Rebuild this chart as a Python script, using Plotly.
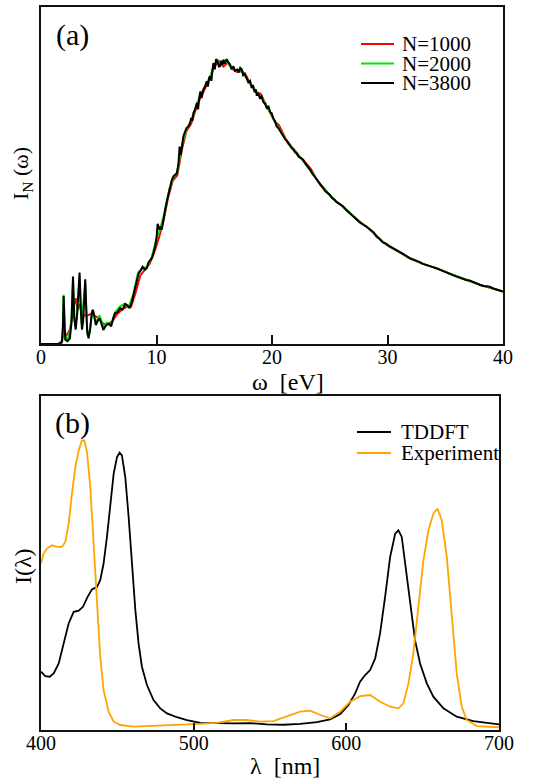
import plotly.graph_objects as go

# ---------------- Panel (a) data: omega [eV] vs I_N(omega) (arbitrary units) ----------------
w_3800 = [0.0, 1.5, 1.8, 1.9, 1.96, 2.02, 2.1, 2.3, 2.5, 2.65, 2.77, 2.88, 3.0, 3.12, 3.22, 3.34, 3.45,
          3.55, 3.65, 3.75, 3.83, 3.92, 4.0, 4.12, 4.25, 4.4, 4.5, 4.6, 4.75, 4.9, 5.07, 5.2, 5.4, 5.55,
          5.7, 5.9, 6.08, 6.25, 6.4, 6.6, 6.86, 7.05, 7.3, 7.5, 7.67, 7.85, 8.0, 8.2, 8.44, 8.6, 8.8, 9.0,
          9.16, 9.3, 9.45, 9.6, 9.75, 9.88, 10.0, 10.1, 10.25, 10.35, 10.46, 10.6, 10.75, 10.9, 11.05,
          11.18, 11.3, 11.47, 11.6, 11.76, 11.9, 12.0, 12.1, 12.2, 12.33, 12.45, 12.6, 12.75, 12.9, 13.0,
          13.1, 13.2, 13.35, 13.5, 13.6, 13.7, 13.8, 13.9, 14.06, 14.2, 14.35, 14.45, 14.55, 14.64, 14.75,
          14.85, 14.93, 15.05, 15.16, 15.3, 15.4, 15.5, 15.6, 15.7, 15.8, 15.9, 16.08, 16.2, 16.37, 16.5,
          16.66, 16.8, 17.0, 17.15, 17.25, 17.38, 17.5, 17.65, 17.8, 17.95, 18.1, 18.24, 18.35, 18.5,
          18.6, 18.67, 18.8, 18.95, 19.1, 19.25, 19.4, 19.54, 19.7, 19.85, 19.97, 20.1, 20.25, 20.4,
          20.55, 20.7, 20.85, 20.98, 21.15, 21.3, 21.45, 21.56, 21.7, 21.85, 22.0, 22.13, 22.3, 22.45,
          22.6, 22.7, 22.9, 23.1, 23.3, 23.5, 23.7, 23.86, 24.05, 24.25, 24.44, 24.6, 24.8, 25.0, 25.2,
          25.4, 25.6, 25.8, 26.0, 26.17, 26.4, 26.6, 26.74, 27.0, 27.3, 27.6, 27.9, 28.2, 28.47, 28.8,
          29.05, 29.3, 29.6, 29.9, 30.2, 30.5, 30.78, 31.05, 31.35, 31.6, 31.93, 32.2, 32.5, 32.8, 33.08,
          33.4, 33.66, 34.0, 34.24, 34.5, 34.8, 35.1, 35.4, 35.7, 35.97, 36.25, 36.54, 36.8, 37.1, 37.4,
          37.7, 38.0, 38.27, 38.55, 38.85, 39.1, 39.4, 39.7, 40.0]
I_3800 = [0.0, 0.0, 0.005, 0.06, 0.168, 0.06, 0.015, 0.01, 0.02, 0.08, 0.236, 0.09, 0.05, 0.10, 0.18,
          0.25, 0.12, 0.05, 0.08, 0.17, 0.226, 0.12, 0.04, 0.02, 0.05, 0.11, 0.119, 0.10, 0.066, 0.08,
          0.09, 0.075, 0.049, 0.06, 0.068, 0.07, 0.062, 0.09, 0.107, 0.11, 0.125, 0.12, 0.14, 0.135,
          0.125, 0.145, 0.17, 0.2, 0.245, 0.255, 0.27, 0.26, 0.265, 0.285, 0.294, 0.30, 0.32, 0.34, 0.37,
          0.42, 0.40, 0.41, 0.40, 0.44, 0.47, 0.50, 0.53, 0.55, 0.57, 0.586, 0.59, 0.597, 0.63, 0.69,
          0.66, 0.70, 0.726, 0.74, 0.755, 0.76, 0.772, 0.79, 0.78, 0.807, 0.82, 0.843, 0.82, 0.86, 0.883,
          0.86, 0.89, 0.90, 0.918, 0.90, 0.93, 0.936, 0.92, 0.96, 0.982, 0.96, 0.996, 0.985, 0.97, 0.971,
          0.99, 0.975, 0.994, 0.98, 0.996, 0.985, 0.977, 0.96, 0.971, 0.955, 0.959, 0.95, 0.965, 0.96,
          0.94, 0.945, 0.93, 0.915, 0.92, 0.895, 0.905, 0.88, 0.89, 0.872, 0.875, 0.86, 0.866, 0.845,
          0.84, 0.825, 0.83, 0.81, 0.807, 0.79, 0.78, 0.761, 0.755, 0.745, 0.735, 0.726, 0.715, 0.71,
          0.70, 0.697, 0.685, 0.68, 0.67, 0.667, 0.655, 0.652, 0.645, 0.644, 0.63, 0.62, 0.609, 0.595,
          0.585, 0.574, 0.565, 0.555, 0.545, 0.535, 0.53, 0.522, 0.51, 0.505, 0.496, 0.49, 0.487, 0.481,
          0.47, 0.462, 0.457, 0.448, 0.434, 0.425, 0.417, 0.41, 0.40, 0.39, 0.376, 0.368, 0.355, 0.35,
          0.341, 0.335, 0.329, 0.322, 0.315, 0.308, 0.30, 0.296, 0.292, 0.286, 0.28, 0.275, 0.271, 0.268,
          0.265, 0.26, 0.257, 0.25, 0.245, 0.24, 0.236, 0.23, 0.226, 0.224, 0.222, 0.216, 0.212, 0.207,
          0.203, 0.202, 0.20, 0.195, 0.191, 0.187, 0.183]

w_1000 = [0, 1.5, 1.8, 2.0, 2.2, 2.5, 2.8, 3.0, 3.2, 3.4, 3.7, 4.0, 4.3, 4.6, 5.0, 5.4, 5.8, 6.2, 6.6,
          7.0, 7.4, 7.8, 8.2, 8.6, 9.0, 9.4, 9.8, 10.2, 10.6, 11.0, 11.4, 11.8, 12.2, 12.6, 13.0, 13.4,
          13.8, 14.2, 14.6, 15.0, 15.4, 15.8, 16.2, 16.6, 17.0, 17.4, 17.8, 18.2, 18.6, 19.0, 19.4, 19.8,
          20.2, 20.6, 21.0, 21.4, 21.8, 22.2, 22.6, 23.0, 23.4, 23.8, 24.2, 24.6, 25.0, 25.5, 26.0, 26.5,
          27.0, 27.5, 28.0, 28.5, 29.0, 29.5, 30.0, 31, 32, 33, 34, 35, 36, 37, 38, 39, 40]
I_1000 = [0, 0, 0.01, 0.04, 0.03, 0.05, 0.12, 0.16, 0.12, 0.14, 0.10, 0.10, 0.105, 0.10, 0.09, 0.07,
          0.07, 0.08, 0.105, 0.12, 0.13, 0.13, 0.18, 0.24, 0.26, 0.28, 0.32, 0.37, 0.43, 0.51, 0.57, 0.59,
          0.68, 0.745, 0.77, 0.82, 0.86, 0.895, 0.925, 0.97, 0.99, 0.97, 0.985, 0.96, 0.95, 0.955, 0.935,
          0.905, 0.88, 0.875, 0.845, 0.815, 0.78, 0.765, 0.73, 0.70, 0.685, 0.665, 0.645, 0.63, 0.61,
          0.58, 0.555, 0.54, 0.52, 0.50, 0.485, 0.465, 0.448, 0.43, 0.415, 0.40, 0.38, 0.36, 0.345,
          0.322, 0.298, 0.281, 0.268, 0.252, 0.236, 0.222, 0.207, 0.196, 0.183]

w_2000 = [0, 1.5, 1.85, 1.96, 2.05, 2.3, 2.6, 2.77, 2.9, 3.1, 3.34, 3.5, 3.83, 4.0, 4.2, 4.47, 4.75,
          5.07, 5.4, 5.7, 6.1, 6.4, 6.8, 7.2, 7.6, 8.0, 8.4, 8.8, 9.2, 9.6, 10.0, 10.3, 10.7, 11.1, 11.5,
          11.8, 12.2, 12.6, 13.0, 13.4, 13.8, 14.2, 14.6, 15.0, 15.3, 15.6, 16.0, 16.4, 16.8, 17.2, 17.6,
          18.0, 18.4, 18.8, 19.2, 19.6, 20.0, 20.4, 20.8, 21.2, 21.6, 22.0, 22.5, 23.0, 23.5, 24.0, 24.5,
          25.0, 25.5, 26.0, 26.5, 27.0, 27.5, 28.0, 28.5, 29.0, 29.5, 30.0, 31, 32, 33, 34, 35, 36, 37,
          38, 39, 40]
I_2000 = [0, 0, 0.01, 0.172, 0.03, 0.015, 0.06, 0.22, 0.08, 0.09, 0.23, 0.07, 0.21, 0.05, 0.04, 0.12,
          0.075, 0.10, 0.06, 0.075, 0.07, 0.11, 0.13, 0.14, 0.13, 0.175, 0.25, 0.265, 0.27, 0.305, 0.37,
          0.40, 0.46, 0.54, 0.585, 0.60, 0.695, 0.75, 0.78, 0.83, 0.87, 0.90, 0.93, 0.975, 0.99, 0.975,
          0.99, 0.97, 0.955, 0.96, 0.94, 0.915, 0.895, 0.875, 0.855, 0.825, 0.80, 0.765, 0.74, 0.715,
          0.695, 0.67, 0.65, 0.625, 0.597, 0.568, 0.542, 0.522, 0.50, 0.486, 0.467, 0.449, 0.43, 0.415,
          0.40, 0.378, 0.36, 0.345, 0.322, 0.298, 0.281, 0.268, 0.252, 0.236, 0.222, 0.207, 0.196, 0.183]

# ---------------- Panel (b) data: lambda [nm] vs I(lambda) (arbitrary units) ----------------
lam_tddft = [400, 402.8, 405.7, 408.3, 411.6, 414.8, 418.1, 421.4, 424.7, 427.5, 430.5, 433.4, 436.7,
             438.8, 441, 443.2, 445.4, 447.6, 449.8, 451.5, 453, 455.2, 457.4, 459.6, 461.8, 463.9,
             466.1, 469.4, 473.7, 478.1, 482.5, 489, 495.6, 504.3, 515.2, 526.1, 537, 547.9, 558.8,
             569.8, 580.7, 589.4, 596, 601.4, 605.8, 609, 612.3, 615.6, 618.9, 622.1, 625.4, 628.7, 632,
             634.1, 636.3, 638.5, 641.8, 645, 648.3, 652.7, 657, 663.6, 672.3, 683.2, 700]
I_tddft = [0.21, 0.194, 0.192, 0.204, 0.24, 0.312, 0.384, 0.426, 0.43, 0.444, 0.48, 0.507, 0.516, 0.54,
           0.60, 0.696, 0.816, 0.924, 0.984, 1.0, 0.99, 0.912, 0.768, 0.60, 0.432, 0.312, 0.228, 0.162,
           0.108, 0.078, 0.06, 0.046, 0.036, 0.026, 0.024, 0.024, 0.025, 0.02, 0.019, 0.022, 0.028,
           0.038, 0.058, 0.09, 0.132, 0.174, 0.198, 0.216, 0.258, 0.348, 0.48, 0.624, 0.708, 0.72, 0.696,
           0.60, 0.444, 0.324, 0.24, 0.168, 0.12, 0.078, 0.048, 0.032, 0.02]

lam_exp = [400, 401.7, 403.9, 407.2, 410.5, 413.7, 415.9, 418.1, 420.3, 422.5, 424.7, 426.8, 428.4,
           430.1, 432.3, 434.5, 436.7, 438.8, 441, 444.3, 447.6, 451.9, 460.7, 471.6, 482.5, 493.4,
           504.3, 515.2, 526.1, 534.8, 543.6, 552.3, 561, 569.8, 576.3, 582.9, 589.4, 596, 602.5, 609,
           615.6, 622.1, 628.7, 634.1, 637.4, 640.7, 643.9, 647.2, 650.5, 653.8, 657, 659.7, 662.5,
           665.8, 669, 672.3, 675.6, 678.9, 685.4, 700]
I_exp = [0.60, 0.636, 0.654, 0.666, 0.66, 0.66, 0.678, 0.744, 0.852, 0.948, 1.008, 1.044, 1.044, 1.002,
         0.876, 0.672, 0.444, 0.264, 0.144, 0.066, 0.03, 0.018, 0.012, 0.014, 0.018, 0.018, 0.022,
         0.026, 0.036, 0.036, 0.03, 0.032, 0.048, 0.066, 0.07, 0.054, 0.042, 0.066, 0.102, 0.122,
         0.126, 0.102, 0.084, 0.078, 0.096, 0.168, 0.276, 0.444, 0.612, 0.72, 0.78, 0.798, 0.756,
         0.624, 0.408, 0.204, 0.084, 0.036, 0.014, 0.01]

x_ticks_a = [0, 10, 20, 30, 40]
x_ticks_b = [400, 500, 600, 700]

legend_a_names = ["N=1000", "N=2000", "N=3800"]
legend_a_colors = ["#ff0000", "#00e600", "#000000"]
legend_b_names = ["TDDFT", "Experiment"]
legend_b_colors = ["#000000", "#ffa500"]

W, H = 544, 778
SERIF = "Liberation Serif"


def px_x(p):
    return p / W


def px_y(p):
    return 1 - p / H


fig = go.Figure()

for xs, ys, nm, col in [(w_1000, I_1000, legend_a_names[0], legend_a_colors[0]),
                        (w_2000, I_2000, legend_a_names[1], legend_a_colors[1]),
                        (w_3800, I_3800, legend_a_names[2], legend_a_colors[2])]:
    fig.add_trace(go.Scatter(x=xs, y=ys, mode="lines", name=nm, showlegend=False,
                             line=dict(color=col, width=2), xaxis="x", yaxis="y"))

for xs, ys, nm, col in [(lam_tddft, I_tddft, legend_b_names[0], legend_b_colors[0]),
                        (lam_exp, I_exp, legend_b_names[1], legend_b_colors[1])]:
    fig.add_trace(go.Scatter(x=xs, y=ys, mode="lines", name=nm, showlegend=False,
                             line=dict(color=col, width=1.8), xaxis="x2", yaxis="y2"))

axis_common = dict(showline=True, mirror=True, linecolor="#111111", linewidth=2, showgrid=False,
                   zeroline=False, automargin=False)

fig.update_layout(
    width=W, height=H,
    margin=dict(l=0, r=0, t=0, b=0, autoexpand=False),
    paper_bgcolor="white", plot_bgcolor="white",
    font=dict(family=SERIF, color="black"),
    showlegend=False,
    xaxis=dict(domain=[px_x(41), px_x(503)], range=[0, 40], tickvals=x_ticks_a,
               ticks="inside", ticklen=9, tickwidth=1.5, tickcolor="#111111", ticklabelstandoff=-6,
               tickfont=dict(size=20, family=SERIF), anchor="y", **axis_common),
    yaxis=dict(domain=[px_y(344), px_y(7)], range=[0, 1.178], showticklabels=False, ticks="",
               anchor="x", **axis_common),
    xaxis2=dict(domain=[px_x(41), px_x(499)], range=[400, 700], tickvals=x_ticks_b,
                ticks="inside", ticklen=7, tickwidth=1.5, tickcolor="#111111", ticklabelstandoff=-6,
                tickfont=dict(size=20, family=SERIF), anchor="y2", **axis_common),
    yaxis2=dict(domain=[px_y(730), px_y(396)], range=[0, 1.204], showticklabels=False, ticks="",
                anchor="x2", **axis_common),
)

# legend keys (manual so that the row spacing matches the original)
def add_legend(names, colors, x0, x1, xt, y_rows):
    for nm, col, yr in zip(names, colors, y_rows):
        fig.add_shape(type="line", xref="paper", yref="paper", x0=px_x(x0), x1=px_x(x1),
                      y0=px_y(yr), y1=px_y(yr), line=dict(color=col, width=2))
        fig.add_annotation(text=nm, x=px_x(xt), y=px_y(yr), xref="paper", yref="paper",
                           xanchor="left", yanchor="middle", showarrow=False, borderpad=0,
                           font=dict(size=21, family=SERIF, color="black"))


add_legend(legend_a_names, legend_a_colors, 361, 394, 401, [44, 63.5, 83])
add_legend(legend_b_names, legend_b_colors, 357, 391, 400, [432, 453])

annotations = [
    dict(text="(a)", x=px_x(72), y=px_y(35), size=30),
    dict(text="(b)", x=px_x(72), y=px_y(423), size=30),
    dict(text="ω&nbsp;&nbsp;[eV]", x=px_x(288), y=px_y(382), size=24),
    dict(text="λ&nbsp;&nbsp;[nm]", x=px_x(285), y=px_y(766), size=24),
    dict(text="I<sub>N</sub> (ω)", x=px_x(22), y=px_y(174), size=22, angle=-90),
    dict(text="I(λ)", x=px_x(23), y=px_y(566), size=24, angle=-90),
]
for a in annotations:
    fig.add_annotation(text=a["text"], x=a["x"], y=a["y"], xref="paper", yref="paper",
                       xanchor="center", yanchor="middle", showarrow=False, borderpad=0,
                       textangle=a.get("angle", 0),
                       font=dict(size=a["size"], family=SERIF, color="black"))

fig.write_html("out.html")
